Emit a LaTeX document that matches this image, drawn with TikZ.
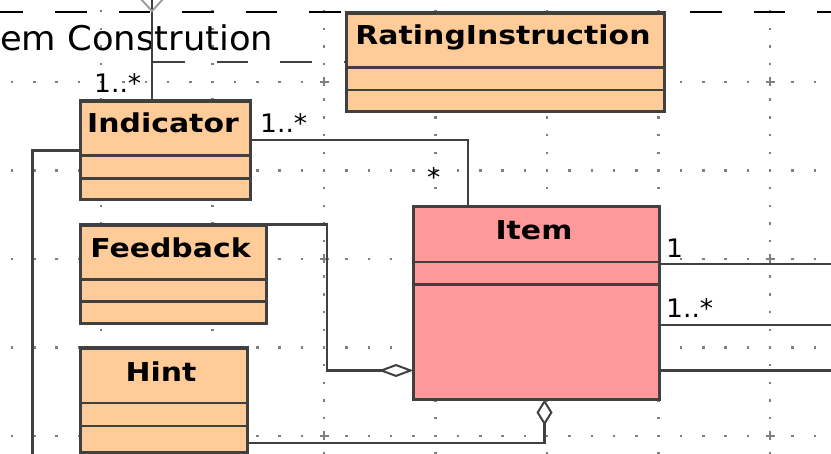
\documentclass[tikz,border=0pt]{standalone}
\usepackage{fontspec}
\usetikzlibrary{arrows.meta}
\newfontfamily\ttlfont[FakeStretch=1.15]{DejaVu Sans Bold}
\newfontfamily\lblfont[FakeStretch=1.04]{DejaVu Sans}
\definecolor{linec}{RGB}{64,64,64}
\definecolor{peach}{RGB}{255,204,153}
\definecolor{pinkc}{RGB}{255,153,153}
\definecolor{gridc}{RGB}{128,128,128}
\tikzset{
  classbox/.style={draw=linec, line width=3.2pt, fill=peach, inner sep=0pt, outer sep=0pt},
  divider/.style={draw=linec, line width=2.8pt},
  conn/.style={draw=linec, line width=2.8pt},
  ttl/.style={font=\ttlfont\fontsize{26}{30}\selectfont, inner sep=0pt, anchor=base, text=black},
  mult/.style={font=\lblfont\fontsize{25.5}{30}\selectfont, inner sep=0pt, anchor=base west, text=black},
  pkgdash/.style={line width=2.4pt, dash pattern=on 31.5pt off 32pt},
  aggH/.style={-{Diamond[fill=white,length=35pt,width=13pt,line width=2pt]}},
  aggV/.style={-{Diamond[fill=white,length=26pt,width=16pt,line width=2pt]}},
}
\begin{document}
\begin{tikzpicture}[x=1pt,y=-1pt]
\useasboundingbox (0,0) rectangle (831,454);
\clip (0,0) rectangle (831,454);
\fill[white] (0,0) rectangle (831,454);
% grid
\foreach \r in {82,170.5,259,347.5,436}
  \foreach \k in {0,...,37}
    \fill[gridc] ({12+22.3*\k-1.2},{\r-1.2}) rectangle ++(2.4,2.4);
\foreach \c in {101,212.5,324,435.5,547,658.5,770}
  \foreach \k in {-4,...,21}
    \fill[gridc] ({\c-1.2},{82+17.7*\k-1.2}) rectangle ++(2.4,2.4);
\foreach \c in {324,770}
  \foreach \r in {82,259,436}
    \draw[gridc, line width=2pt] ({\c-4.5},\r) -- ({\c+4.5},\r) (\c,{\r-4.5}) -- (\c,{\r+4.5});
% package frame
\draw[pkgdash, black] (-8.5,12) -- (840,12);
\draw[pkgdash, linec] (153,62) -- (346,62);
\node[font=\lblfont\fontsize{34}{40}\selectfont, anchor=base west, inner sep=0pt] (pkg) at (0,50.5) {em Constrution};
% classes
\node[classbox, minimum width=318pt, minimum height=98.5pt] (rat) at (505.5,62.25) {};
\draw[divider] (346.5,67.5) -- (664.5,67.5) (346.5,90) -- (664.5,90);
\node[ttl] (ratT) at (503,45) {RatingInstruction};

\node[classbox, minimum width=170pt, minimum height=98.5pt] (ind) at (165.5,150.25) {};
\draw[divider] (80.5,155.5) -- (250.5,155.5) (80.5,178.5) -- (250.5,178.5);
\node[ttl] (indT) at (163,133) {Indicator};

\node[classbox, minimum width=186pt, minimum height=98.5pt] (fb) at (173.5,274.25) {};
\draw[divider] (80.5,279.5) -- (266.5,279.5) (80.5,301.5) -- (266.5,301.5);
\node[ttl] (fbT) at (170.5,258) {Feedback};

\node[classbox, minimum width=167pt, minimum height=104.5pt] (hint) at (164,400.25) {};
\draw[divider] (80.5,403) -- (247.5,403) (80.5,426) -- (247.5,426);
\node[ttl] (hintT) at (161,382) {Hint};

\node[classbox, fill=pinkc, minimum width=246pt, minimum height=193pt] (item) at (536.5,303) {};
\draw[divider] (413.5,262) -- (659.5,262) (413.5,284.5) -- (659.5,284.5);
\node[ttl] (itemT) at (534,240) {Item};
% connectors
\coordinate (topend) at (152,0);
\draw[conn] ([xshift=-13.5pt]ind.north) -- (topend);
\draw[linec!55, line width=1.8pt] (139,-3) -- (152,11) -- (165,-3);
\draw[conn] ([yshift=10.25pt]ind.east) -| ([xshift=-68.5pt]item.north);
\coordinate (lend) at (32.5,460);
\draw[conn] (ind.west) -| (lend);
\coordinate (fbv) at (327,224.5);
\draw[conn, aggH] ([yshift=0.5pt]fb.north east) -- (fbv) |- ([yshift=-67.5pt]item.west);
\draw[conn, aggV] ([yshift=9.5pt]hint.south east) -| ([xshift=8pt]item.south);
\coordinate (r1) at (840,264);
\coordinate (r2) at (840,325);
\coordinate (r3) at (840,370.5);
\draw[conn] ([yshift=39pt]item.east) -- (r1);
\draw[conn] ([yshift=-22pt]item.east) -- (r2);
\draw[conn] ([yshift=-67.5pt]item.east) -- (r3);
% multiplicities
\node[mult] (m1) at (94,93) {1..*};
\node[mult] (m2) at (260,133) {1..*};
\node[mult] (m3) at (427,186.5) {*};
\node[mult] (m4) at (666,257.7) {1};
\node[mult] (m5) at (666,318) {1..*};
\end{tikzpicture}
\end{document}
